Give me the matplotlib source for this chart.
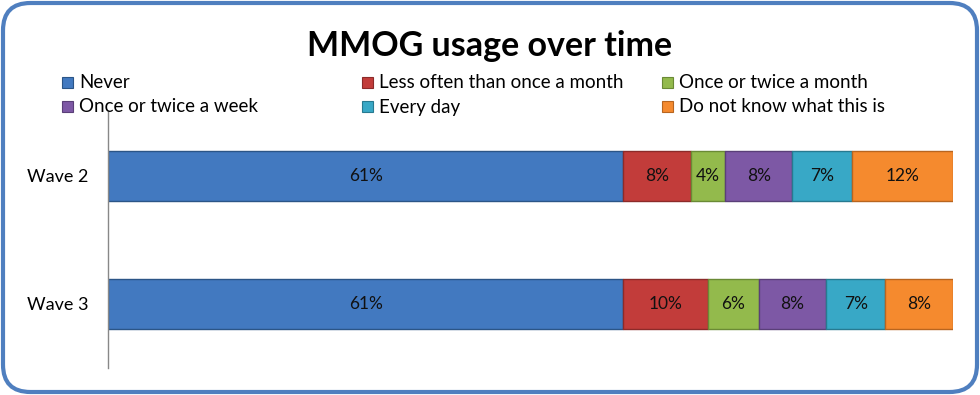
import matplotlib
matplotlib.use("Agg")
import matplotlib.pyplot as plt
from matplotlib.patches import FancyBboxPatch, Rectangle

plt.rcParams['font.family'] = ['Lato', 'DejaVu Sans']

categories = ["Wave 2", "Wave 3"]
series = ["Never", "Less often than once a month", "Once or twice a month",
          "Once or twice a week", "Every day", "Do not know what this is"]
values = {
    "Never": [61, 61],
    "Less often than once a month": [8, 10],
    "Once or twice a month": [4, 6],
    "Once or twice a week": [8, 8],
    "Every day": [7, 7],
    "Do not know what this is": [12, 8],
}
colors = ["#4279C0", "#C23C3A", "#93BA4C", "#7D58A5", "#38A8C6", "#F58A2E"]
edges = ["#2B5587", "#8C2A29", "#6A8A35", "#5A3F78", "#277A90", "#B8651F"]

fig = plt.figure(figsize=(9.8, 3.95), dpi=100)
ax = fig.add_axes([108/980, 1-368/395, (953-108)/980, (368-112)/395])

ypos = list(range(len(categories)))
left = [0.0] * len(categories)
for i, s in enumerate(series):
    v = values[s]
    bars = ax.barh(ypos, v, left=left, height=0.39, color=colors[i],
                   edgecolor=edges[i], linewidth=1.0, label=s)
    for b, val in zip(bars, v):
        ax.text(b.get_x() + b.get_width()/2, b.get_y() + b.get_height()/2,
                f"{val}%", ha='center', va='center', fontsize=12.5, color='#111111')
    left = [l + x for l, x in zip(left, v)]

ax.set_xlim(0, 100)
ax.set_ylim(1.5, -0.5)
ax.set_yticks(ypos)
ax.set_yticklabels(categories, fontsize=13)
ax.tick_params(axis='y', length=0, pad=14)
ax.set_xticks([])
for sp in ['top', 'right', 'bottom']:
    ax.spines[sp].set_visible(False)
ax.spines['left'].set_color('#888888')
ax.spines['left'].set_linewidth(1.0)

# Title
fig.text(0.5, 1-46/395, "MMOG usage over time", ha='center', va='center',
         fontsize=24.5, fontweight='bold')

# Legend (3 equal columns, row-major)
col_x = [62, 362, 662]
row_y = [83, 107]
for i, s in enumerate(series):
    r, c = divmod(i, 3)
    x0 = col_x[c]; yc = row_y[r]
    fig.patches.append(Rectangle((x0/980, 1-(yc+5)/395), 11/980, 11/395,
                                 transform=fig.transFigure, facecolor=colors[i],
                                 edgecolor=edges[i], linewidth=0.8))
    fig.text((x0+17)/980, 1-yc/395, s, ha='left', va='center', fontsize=13.5)

# Rounded frame
frame = FancyBboxPatch((3/980, 3/395), 974/980, 389/395,
                       boxstyle="round,pad=0,rounding_size=0.028",
                       transform=fig.transFigure, facecolor='none',
                       edgecolor='#4F7FBF', linewidth=3,
                       mutation_aspect=980/395)
fig.patches.append(frame)

fig.savefig("out.png", dpi=100)
